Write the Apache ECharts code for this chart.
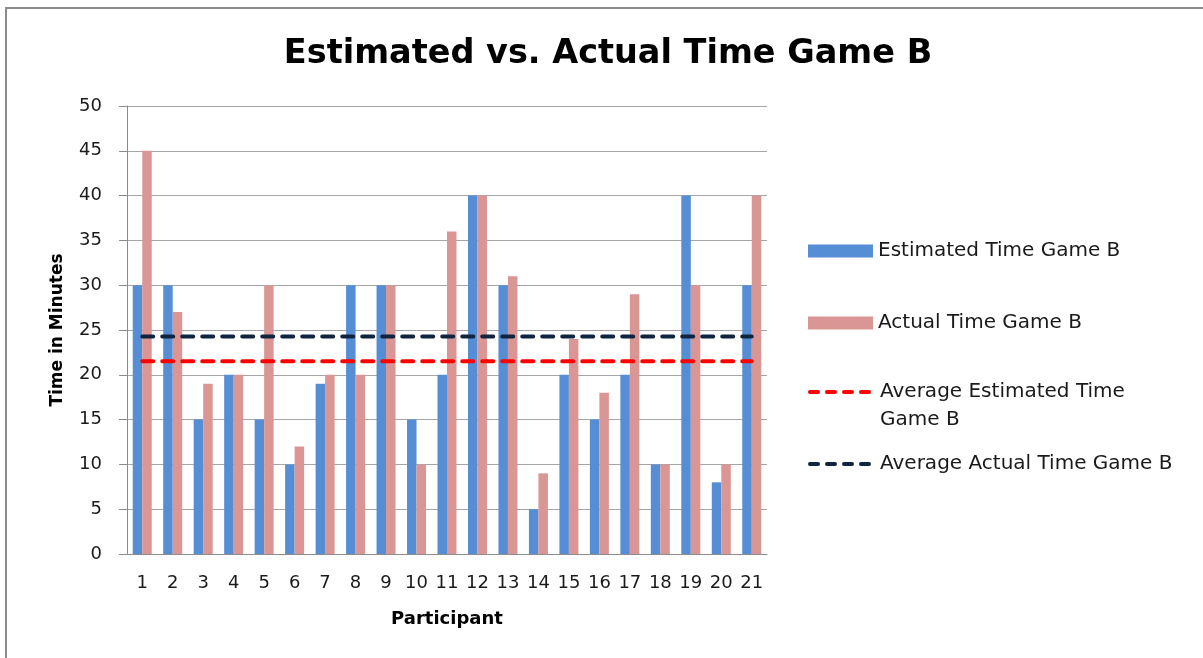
<!DOCTYPE html>
<html>
<head>
<meta charset="utf-8">
<script src="https://cdn.jsdelivr.net/npm/echarts@6/dist/echarts.min.js"></script>
<style>
  html, body { margin: 0; padding: 0; background: #ffffff; }
  #chart { width: 1203px; height: 658px; }
</style>
</head>
<body>
<div id="chart"></div>
<script>
// Participants 1..21
const participants = ['1','2','3','4','5','6','7','8','9','10','11','12','13','14','15','16','17','18','19','20','21'];
// Minutes each participant estimated for Game B
const estimatedTime = [30, 30, 15, 20, 15, 10, 19, 30, 30, 15, 20, 40, 30, 5, 20, 15, 20, 10, 40, 8, 30];
// Minutes each participant actually spent on Game B
const actualTime = [45, 27, 19, 20, 30, 12, 20, 20, 30, 10, 36, 40, 31, 9, 24, 18, 29, 10, 30, 10, 40];

const seriesNames = [
  'Estimated Time Game B',
  'Actual Time Game B',
  'Average Estimated Time Game B',
  'Average Actual Time Game B'
];

function mean(arr) {
  return arr.reduce((s, v) => s + v, 0) / arr.length;
}
const avgEstimated = participants.map(() => mean(estimatedTime));
const avgActual = participants.map(() => mean(actualTime));

const FONT = '"DejaVu Sans", "Open Sans", sans-serif';
const BLUE = '#558ED5';
const PINK = '#D99694';
const RED = '#FF0000';
const NAVY = '#0F243E';

const legendBase = {
  orient: 'vertical',
  left: 808,
  padding: 0,
  itemWidth: 65,
  itemHeight: 13,
  itemGap: 0,
  textStyle: { fontFamily: FONT, fontSize: 20, color: '#1a1a1a', lineHeight: 28 },
  selectedMode: false
};
// bar entries: plain rectangles
const barLegend = Object.assign({}, legendBase, { icon: 'rect' });
// dashed-line entries: keep only the thick dashed line, hide the marker circle
const lineLegend = Object.assign({}, legendBase, {
  itemStyle: { color: 'transparent', borderWidth: 0, opacity: 0 },
  lineStyle: { width: 4, type: [8, 9], cap: 'round' }
});

const chart = echarts.init(document.getElementById('chart'), null, { renderer: 'canvas' });

chart.setOption({
  backgroundColor: '#ffffff',
  animation: false,
  title: {
    text: 'Estimated vs. Actual Time Game B',
    left: 603,
    textAlign: 'center',
    top: 32,
    textStyle: { fontFamily: FONT, fontSize: 33.5, fontWeight: 'bold', color: '#000000' }
  },
  legend: [
    Object.assign({}, barLegend, { top: 237, data: [seriesNames[0]] }),
    Object.assign({}, barLegend, { top: 309, data: [seriesNames[1]] }),
    Object.assign({}, lineLegend, {
      top: 350,
      data: [seriesNames[2]],
      formatter: () => '\nAverage Estimated Time\nGame B'
    }),
    Object.assign({}, lineLegend, { top: 450, data: [seriesNames[3]] })
  ],
  graphic: [
    {
      type: 'polyline',
      shape: { points: [[6, 658], [6, 8], [1203, 8]] },
      style: { stroke: '#8c8c8c', lineWidth: 2, fill: null },
      silent: true
    }
  ],
  grid: { left: 127, right: 436, top: 106, bottom: 104, containLabel: false },
  xAxis: {
    type: 'category',
    data: participants,
    name: 'Participant',
    nameLocation: 'middle',
    nameGap: 56,
    nameTextStyle: { fontFamily: FONT, fontSize: 18, fontWeight: 'bold', color: '#000000' },
    axisLine: { show: true, lineStyle: { color: '#8c8c8c', width: 1 } },
    axisTick: { show: false },
    axisLabel: { fontFamily: FONT, fontSize: 18, color: '#1a1a1a', margin: 20, interval: 0 }
  },
  yAxis: {
    type: 'value',
    min: 0,
    max: 50,
    interval: 5,
    name: 'Time in Minutes',
    nameLocation: 'middle',
    nameGap: 61,
    nameRotate: 90,
    nameTextStyle: { fontFamily: FONT, fontSize: 17, fontWeight: 'bold', color: '#000000' },
    axisLine: { show: true, lineStyle: { color: '#8c8c8c', width: 1 } },
    axisTick: { show: true, length: 8, lineStyle: { color: '#8c8c8c' } },
    axisLabel: { fontFamily: FONT, fontSize: 18, color: '#1a1a1a', margin: 25 },
    splitLine: { show: true, lineStyle: { color: '#a6a6a6', width: 1 } }
  },
  series: [
    {
      name: seriesNames[0],
      type: 'bar',
      data: estimatedTime,
      barWidth: 9.5,
      barGap: '0%',
      itemStyle: { color: BLUE }
    },
    {
      name: seriesNames[1],
      type: 'bar',
      data: actualTime,
      barWidth: 9.5,
      barGap: '0%',
      itemStyle: { color: PINK }
    },
    {
      name: seriesNames[2],
      type: 'line',
      data: avgEstimated,
      symbol: 'none',
      z: 5,
      itemStyle: { color: RED },
      lineStyle: { color: RED, width: 4, type: [11, 9], cap: 'round' }
    },
    {
      name: seriesNames[3],
      type: 'line',
      data: avgActual,
      symbol: 'none',
      z: 5,
      itemStyle: { color: NAVY },
      lineStyle: { color: NAVY, width: 4, type: [11, 9], cap: 'round' }
    }
  ]
});
</script>
</body>
</html>
